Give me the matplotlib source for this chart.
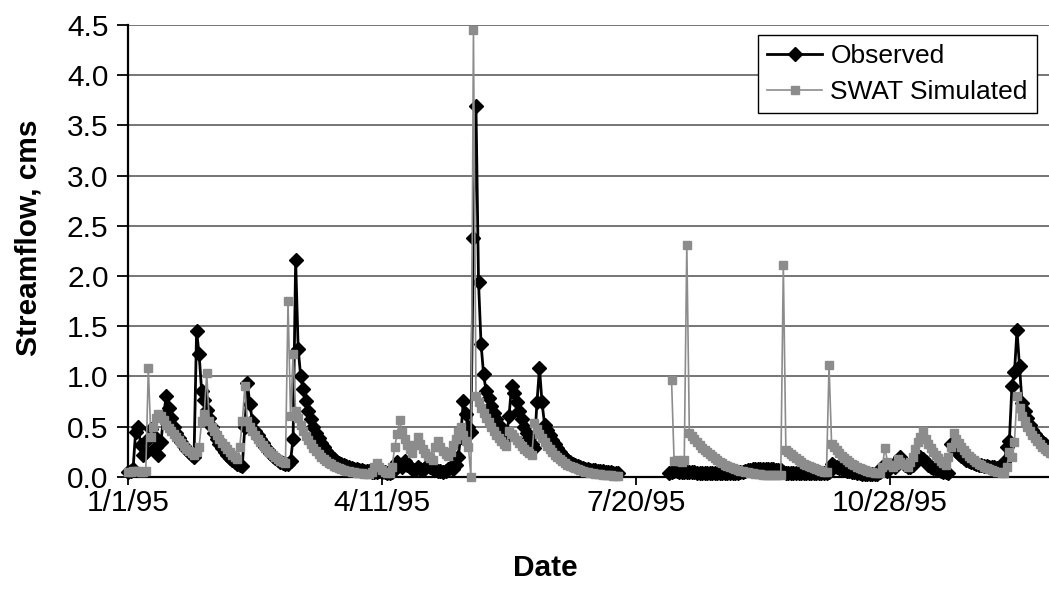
import numpy as np
import matplotlib
matplotlib.use("Agg")
import matplotlib.pyplot as plt

nan = float("nan")

# Daily streamflow (cms), 1/1/95 (day 0) .. 12/31/95 (day 364)
observed = [
    0.05, 0.06, 0.08, 0.45, 0.5, 0.32, 0.22, 0.25, 0.38, 0.48,
    0.42, 0.3, 0.22, 0.35, 0.6, 0.8, 0.68, 0.58, 0.5, 0.44,
    0.39, 0.35, 0.31, 0.28, 0.25, 0.22, 0.2, 1.45, 1.22, 0.85,
    0.76, 0.66, 0.58, 0.5, 0.44, 0.38, 0.33, 0.29, 0.25, 0.22,
    0.19, 0.17, 0.15, 0.13, 0.12, 0.11, 0.5, 0.93, 0.72, 0.55,
    0.46, 0.42, 0.38, 0.34, 0.3, 0.27, 0.24, 0.21, 0.19, 0.17,
    0.15, 0.14, 0.13, 0.13, 0.16, 0.38, 2.16, 1.27, 1.0, 0.87,
    0.75, 0.65, 0.57, 0.5, 0.44, 0.39, 0.34, 0.3, 0.26, 0.23,
    0.2, 0.18, 0.16, 0.14, 0.13, 0.12, 0.11, 0.1, 0.09, 0.08,
    0.08, 0.07, 0.07, 0.06, 0.06, 0.06, 0.05, 0.05, 0.05, 0.06,
    0.05, 0.05, 0.04, 0.04, 0.05, 0.08, 0.15, 0.12, 0.1, 0.16,
    0.12, 0.1, 0.08, 0.07, 0.1, 0.08, 0.07, 0.09, 0.12, 0.1,
    0.08, 0.07, 0.06, 0.06, 0.05, 0.06, 0.08, 0.1, 0.08, 0.12,
    0.2, 0.4, 0.75, 0.62, 0.5, 0.45, 2.38, 3.69, 1.94, 1.32,
    1.02, 0.85, 0.78, 0.7, 0.63, 0.57, 0.52, 0.47, 0.43, 0.39,
    0.6, 0.9, 0.83, 0.74, 0.65, 0.57, 0.5, 0.44, 0.39, 0.33,
    0.29, 0.74, 1.08, 0.74, 0.52, 0.47, 0.42, 0.37, 0.33, 0.29,
    0.25, 0.22, 0.19, 0.17, 0.15, 0.13, 0.12, 0.11, 0.1, 0.09,
    0.08, 0.08, 0.07, 0.07, 0.07, 0.06, 0.06, 0.06, 0.05, 0.05,
    0.05, 0.04, 0.04, 0.04, nan, nan, nan, nan, nan, nan,
    nan, nan, nan, nan, nan, nan, nan, nan, nan, nan,
    nan, nan, nan, 0.04, 0.05, 0.06, 0.06, 0.05, 0.05, 0.05,
    0.05, 0.05, 0.05, 0.05, 0.04, 0.04, 0.04, 0.04, 0.04, 0.04,
    0.04, 0.04, 0.04, 0.04, 0.04, 0.04, 0.04, 0.04, 0.04, 0.04,
    0.04, 0.05, 0.05, 0.06, 0.07, 0.07, 0.08, 0.08, 0.08, 0.08,
    0.08, 0.08, 0.08, 0.08, 0.08, 0.07, 0.07, 0.07, 0.05, 0.04,
    0.04, 0.04, 0.04, 0.04, 0.04, 0.04, 0.04, 0.04, 0.04, 0.04,
    0.04, 0.04, 0.04, 0.04, 0.04, 0.04, 0.05, 0.13, 0.11, 0.1,
    0.09, 0.08, 0.07, 0.06, 0.06, 0.05, 0.05, 0.04, 0.04, 0.03,
    0.03, 0.03, 0.03, 0.03, 0.03, 0.03, 0.05, 0.1, 0.08, 0.06,
    0.1, 0.12, 0.1, 0.15, 0.2, 0.15, 0.12, 0.1, 0.1, 0.12,
    0.15, 0.2, 0.2, 0.18, 0.15, 0.12, 0.1, 0.09, 0.08, 0.07,
    0.06, 0.05, 0.05, 0.04, 0.33, 0.3, 0.26, 0.23, 0.21, 0.19,
    0.17, 0.16, 0.15, 0.14, 0.13, 0.12, 0.12, 0.11, 0.11, 0.1,
    0.1, 0.1, 0.09, 0.09, 0.1, 0.15, 0.3, 0.36, 0.9, 1.04,
    1.46, 1.1, 0.73, 0.65, 0.58, 0.52, 0.47, 0.43, 0.4, 0.37,
    0.35, 0.33,
]

swat_simulated = [
    0.05, 0.05, 0.06, 0.06, 0.06, 0.05, 0.05, 0.06, 1.08, 0.4,
    0.5, 0.58, 0.62, 0.6, 0.56, 0.52, 0.49, 0.46, 0.43, 0.4,
    0.37, 0.34, 0.31, 0.28, 0.26, 0.24, 0.22, 0.25, 0.3, 0.55,
    0.62, 1.03, 0.55, 0.5, 0.46, 0.42, 0.38, 0.34, 0.31, 0.28,
    0.25, 0.22, 0.2, 0.18, 0.3, 0.55, 0.9, 0.55, 0.5, 0.46,
    0.42, 0.38, 0.35, 0.32, 0.29, 0.26, 0.24, 0.22, 0.2, 0.18,
    0.16, 0.15, 0.14, 1.75, 0.6, 1.22, 0.65, 0.58, 0.52, 0.46,
    0.41, 0.37, 0.33, 0.29, 0.26, 0.23, 0.2, 0.18, 0.16, 0.14,
    0.13, 0.11, 0.1, 0.09, 0.08, 0.07, 0.06, 0.06, 0.05, 0.05,
    0.04, 0.04, 0.04, 0.03, 0.03, 0.03, 0.05, 0.1, 0.14, 0.1,
    0.07, 0.05, 0.04, 0.04, 0.1, 0.3, 0.43, 0.56, 0.45, 0.38,
    0.32, 0.28, 0.24, 0.32, 0.4, 0.33, 0.28, 0.24, 0.21, 0.19,
    0.17, 0.3, 0.36, 0.3, 0.26, 0.23, 0.21, 0.25, 0.32, 0.38,
    0.45, 0.5, 0.42, 0.36, 0.3, 0.0, 4.45, 0.8, 0.74, 0.68,
    0.63, 0.58, 0.54, 0.5, 0.46, 0.42, 0.39, 0.36, 0.33, 0.31,
    0.46, 0.43, 0.4, 0.37, 0.34, 0.31, 0.28, 0.26, 0.24, 0.22,
    0.53, 0.48, 0.43, 0.39, 0.35, 0.31, 0.28, 0.25, 0.22, 0.2,
    0.18, 0.16, 0.14, 0.12, 0.11, 0.1, 0.09, 0.08, 0.07, 0.06,
    0.05, 0.05, 0.04, 0.04, 0.03, 0.03, 0.03, 0.02, 0.02, 0.02,
    0.02, 0.01, 0.01, 0.01, nan, nan, nan, nan, nan, nan,
    nan, nan, nan, nan, nan, nan, nan, nan, nan, nan,
    nan, nan, nan, nan, 0.96, 0.16, 0.17, 0.16, 0.15, 0.17,
    2.31, 0.44, 0.41, 0.38, 0.35, 0.32, 0.29, 0.27, 0.25, 0.23,
    0.21, 0.19, 0.17, 0.15, 0.14, 0.12, 0.11, 0.1, 0.09, 0.08,
    0.07, 0.06, 0.06, 0.05, 0.05, 0.04, 0.04, 0.03, 0.03, 0.03,
    0.02, 0.02, 0.02, 0.02, 0.02, 0.02, 0.02, 0.02, 2.11, 0.27,
    0.25, 0.23, 0.21, 0.19, 0.17, 0.15, 0.13, 0.12, 0.11, 0.1,
    0.09, 0.08, 0.07, 0.06, 0.05, 0.05, 1.11, 0.33, 0.3, 0.27,
    0.24, 0.21, 0.19, 0.17, 0.15, 0.13, 0.12, 0.1, 0.09, 0.08,
    0.07, 0.06, 0.05, 0.05, 0.04, 0.04, 0.04, 0.1, 0.29, 0.15,
    0.12, 0.1, 0.12, 0.18, 0.15, 0.13, 0.12, 0.1, 0.15, 0.2,
    0.28, 0.35, 0.4, 0.46, 0.38, 0.33, 0.29, 0.25, 0.22, 0.19,
    0.16, 0.14, 0.12, 0.2, 0.3, 0.44, 0.38, 0.34, 0.3, 0.27,
    0.24, 0.21, 0.19, 0.17, 0.15, 0.13, 0.12, 0.1, 0.09, 0.08,
    0.07, 0.06, 0.05, 0.05, 0.04, 0.04, 0.1, 0.25, 0.2, 0.35,
    0.8, 0.68, 0.6, 0.55, 0.5, 0.46, 0.42, 0.39, 0.36, 0.33,
    0.3, 0.28, 0.26, 0.24, 0.22,
]

tick_days = [0, 100, 200, 300]
tick_labels = ["1/1/95", "4/11/95", "7/20/95", "10/28/95"]
y_ticks = [0.0, 0.5, 1.0, 1.5, 2.0, 2.5, 3.0, 3.5, 4.0, 4.5]

plt.rcParams["font.family"] = ["Liberation Sans", "DejaVu Sans"]

days = np.arange(len(observed))
days_sim = np.arange(len(swat_simulated))

fig = plt.figure(figsize=(10.49, 5.89), dpi=100)
ax = fig.add_axes([128 / 1049, 112.3 / 589, 921 / 1049, 451.7 / 589])

ax.set_axisbelow(True)
ax.grid(axis="y", color="#6a6a6a", linewidth=1.3)

ax.plot(days, observed, color="black", linewidth=2.0, marker="D",
        markersize=7.2, markerfacecolor="black", markeredgecolor="black",
        label="Observed", zorder=3, clip_on=False)
ax.plot(days_sim, swat_simulated, color="#8c8c8c", linewidth=1.2,
        marker="s", markersize=5.5, markerfacecolor="#8c8c8c",
        markeredgecolor="#8c8c8c", label="SWAT Simulated", zorder=4,
        clip_on=False)

ax.set_xlim(0, 921 / 2.54)
ax.set_ylim(0, 4.5)
ax.set_yticks(y_ticks)
ax.set_yticklabels([f"{v:.1f}" for v in y_ticks])
ax.set_xticks(tick_days)
ax.set_xticklabels(tick_labels)

for s in ["top", "right"]:
    ax.spines[s].set_visible(False)
for s in ["left", "bottom"]:
    ax.spines[s].set_linewidth(1.6)
    ax.spines[s].set_color("black")

ax.tick_params(axis="y", labelsize=21.5, length=8, width=1.3, pad=6)
ax.tick_params(axis="x", labelsize=21.5, length=6, width=1.3, pad=3)

ax.set_ylabel("Streamflow, cms", fontsize=21.5, fontweight="bold")
ax.yaxis.set_label_coords(-0.093, 0.53)
ax.set_xlabel("Date", fontsize=21.5, fontweight="bold")
ax.xaxis.set_label_coords(0.453, -0.172)

leg = ax.legend(loc="upper right", bbox_to_anchor=(0.987, 0.978),
                borderaxespad=0, fontsize=19, frameon=True, fancybox=False,
                handlelength=2.1, handletextpad=0.3, borderpad=0.35,
                labelspacing=0.45)
leg.get_frame().set_edgecolor("black")
leg.get_frame().set_linewidth(1.0)
leg.get_frame().set_alpha(1)

fig.savefig("out.png", dpi=100)
